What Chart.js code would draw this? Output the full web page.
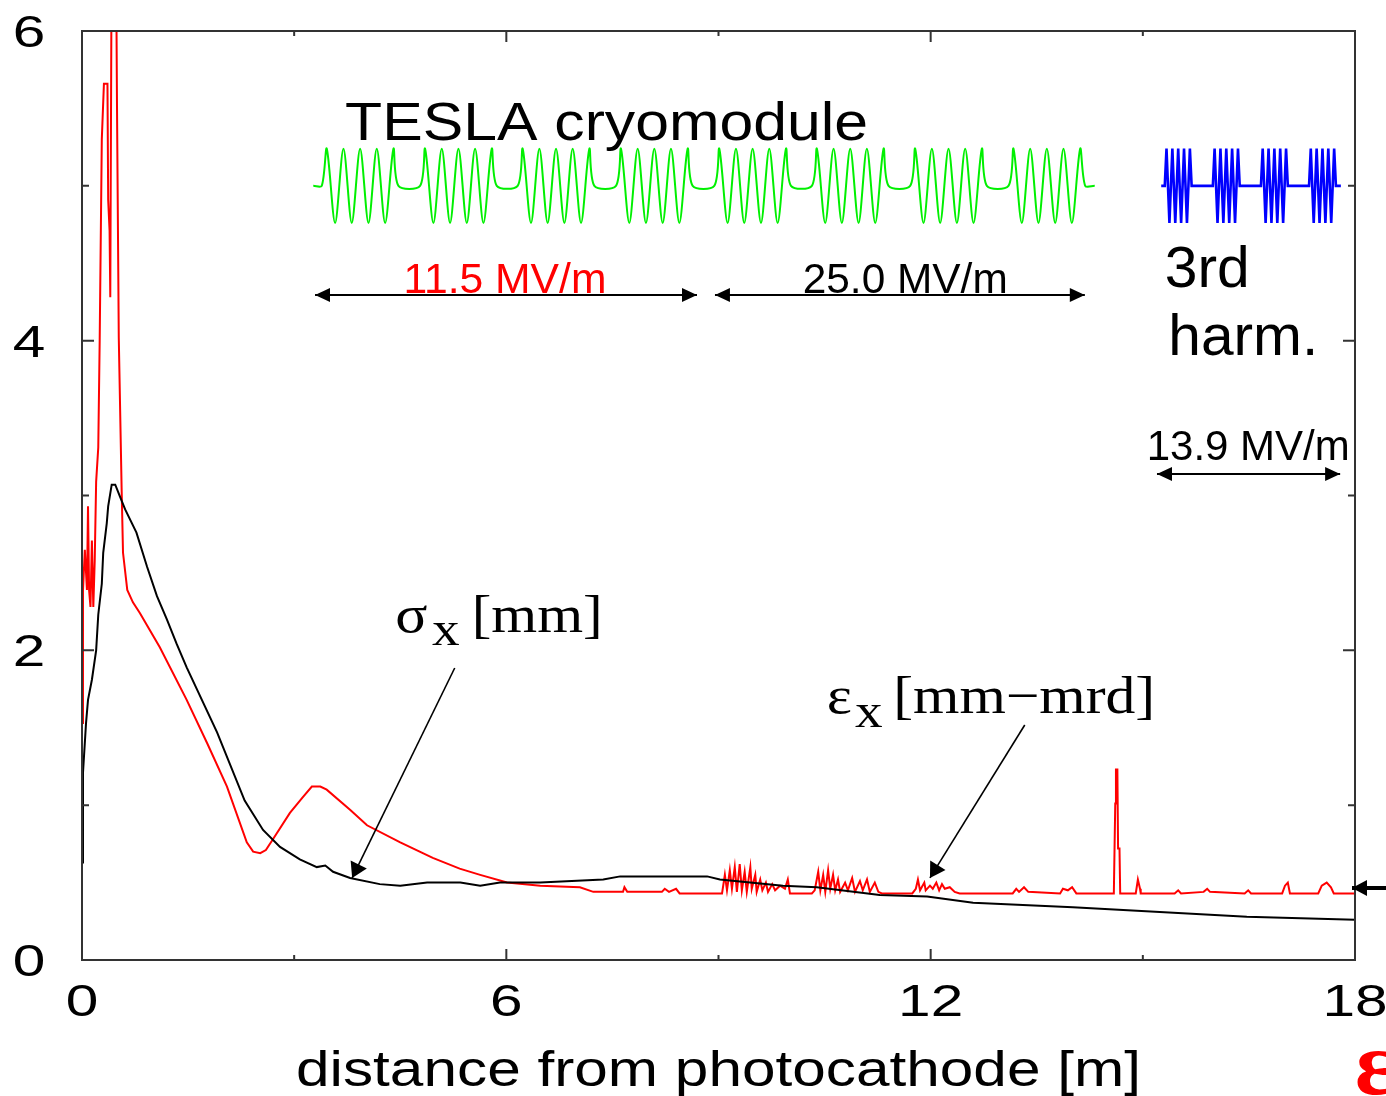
<!DOCTYPE html>
<html><head><meta charset="utf-8">
<script src="https://cdn.jsdelivr.net/npm/chart.js@4.4.1/dist/chart.umd.min.js"></script>
<style>html,body{margin:0;padding:0;background:#fff;}canvas{display:block;}</style>
</head><body>
<canvas id="c" width="1386" height="1096"></canvas>
<script>
// ---------------- data ----------------
// sigma_x [mm] (black) vs distance [m]
const sigmaZ  = [0,0.014,0.057,0.085,0.14,0.20,0.23,0.28,0.30,0.35,0.37,0.42,0.47,0.54,0.61,0.77,0.92,1.06,1.20,1.34,1.48,1.91,2.30,2.56,2.80,3.08,3.32,3.44,3.55,3.79,4.21,4.50,4.88,5.35,5.63,5.91,6.48,7.37,7.61,8.84,9.02,9.91,10.39,11.28,11.95,12.6,14.01,15.24,16.47,18.0];
const sigmaMM = [0.63,1.21,1.53,1.68,1.81,2.00,2.23,2.43,2.63,2.82,2.93,3.07,3.07,2.99,2.91,2.76,2.54,2.35,2.20,2.04,1.89,1.47,1.03,0.84,0.73,0.65,0.60,0.61,0.57,0.53,0.49,0.48,0.50,0.50,0.48,0.50,0.50,0.52,0.54,0.54,0.52,0.48,0.47,0.42,0.41,0.37,0.34,0.31,0.28,0.26];
// epsilon_x [mm-mrd] (red) vs distance [m]
const emitZ = [0.00,0.014,0.04,0.07,0.085,0.10,0.12,0.14,0.16,0.18,0.20,0.23,0.25,0.28,0.31,0.36,0.37,0.39,0.40,0.42,0.48,0.495,0.52,0.56,0.58,0.64,0.72,0.82,0.96,1.10,1.48,1.77,2.05,2.33,2.42,2.52,2.60,2.70,2.94,3.12,3.25,3.37,3.46,3.79,4.03,4.50,4.96,5.34,5.63,6.01,6.48,7.04,7.23,7.65,7.67,7.71,8.20,8.24,8.30,8.40,8.45,
 9.05,9.09,9.12,9.16,9.19,9.23,9.26,9.30,9.33,9.37,9.40,9.45,9.47,9.52,9.54,9.59,9.62,9.67,9.70,9.76,9.80,9.87,9.94,9.98,10.01,
 10.32,10.36,10.41,10.44,10.48,10.51,10.55,10.58,10.62,10.65,10.69,10.72,10.79,10.83,10.89,10.93,11.00,11.04,11.10,11.14,11.21,11.26,11.31,
 11.74,11.79,11.82,11.85,11.91,11.93,11.99,12.03,12.08,12.12,12.16,12.20,12.27,12.34,12.41,
 13.16,13.21,13.25,13.32,13.38,13.83,13.87,13.94,14.00,14.06,
 14.59,14.61,14.62,14.64,14.65,14.67,14.68,14.90,14.93,14.96,14.97,15.45,15.50,15.54,15.86,15.91,15.95,16.44,16.49,16.53,16.97,17.01,17.05,17.08,17.48,17.53,17.60,17.66,17.70,18.00];
const emitMM = [1.53,2.39,2.65,2.39,2.93,2.39,2.28,2.71,2.28,2.58,3.09,3.31,4.00,5.30,5.66,5.66,4.91,4.71,4.28,6.60,6.60,5.51,4.02,3.05,2.63,2.39,2.31,2.24,2.13,2.02,1.68,1.40,1.12,0.76,0.70,0.69,0.71,0.78,0.95,1.05,1.12,1.12,1.10,0.97,0.87,0.76,0.66,0.59,0.55,0.50,0.48,0.47,0.44,0.44,0.47,0.44,0.44,0.46,0.44,0.46,0.43,
 0.43,0.55,0.45,0.58,0.46,0.60,0.44,0.62,0.45,0.57,0.44,0.60,0.46,0.55,0.44,0.52,0.45,0.50,0.44,0.49,0.45,0.48,0.46,0.52,0.43,
 0.43,0.45,0.57,0.45,0.55,0.44,0.58,0.46,0.55,0.45,0.52,0.44,0.50,0.45,0.53,0.44,0.51,0.45,0.52,0.44,0.50,0.44,0.43,
 0.43,0.46,0.52,0.45,0.50,0.45,0.48,0.46,0.50,0.45,0.49,0.46,0.47,0.44,0.43,
 0.43,0.46,0.44,0.47,0.44,0.43,0.46,0.45,0.47,0.43,
 0.43,1.01,1.23,1.23,0.72,0.72,0.43,0.43,0.52,0.46,0.43,0.43,0.45,0.43,0.44,0.46,0.44,0.43,0.45,0.43,0.43,0.48,0.50,0.43,0.43,0.48,0.50,0.47,0.43,0.43];
// tick labels
const xTickLabels = ['0','6','12','18'];
const yTickLabels = ['0','2','4','6'];
// cavity schematic: cavity entrance positions [m] and 9-cell field pattern
const teslaCavityStarts = [3.39,4.78,6.16,7.55,8.94,10.32,11.71,13.10];
const harmCavityStarts  = [15.31,15.99,16.67,17.35];
const cellPhase = [0,0.065,0.174,0.283,0.391,0.5,0.609,0.717,0.826,0.935,1.0];
const cellSwing = [0,1,-1,1,-1,1,-1,1,-1,1,0];

// ---------------- build ----------------
const zip = (xs, ys) => xs.map((v, i) => ({x: v, y: ys[i]}));
function cavityTrace(from, to, starts, len, amp, base) {
  const pts = [{x: from, y: base}];
  starts.forEach(s => cellPhase.forEach((p, i) => pts.push({x: s + p * len, y: base + cellSwing[i] * amp})));
  pts.push({x: to, y: base});
  return pts;
}
const SANS = '"Liberation Sans", Arial, sans-serif';
const SERIF = '"Liberation Serif", "Times New Roman", serif';

function txt(ctx, t, x, y, size, opt) {
  opt = opt || {};
  ctx.save();
  ctx.font = (opt.bold ? 'bold ' : '') + size + 'px ' + (opt.family || SANS);
  const w = ctx.measureText(t).width;
  const sx = opt.w ? opt.w / w : (opt.sx || 1);
  ctx.translate(x, y);
  ctx.scale(sx, 1);
  ctx.textAlign = opt.align || 'left';
  ctx.textBaseline = 'alphabetic';
  ctx.fillStyle = opt.color || '#000';
  ctx.fillText(t, 0, 0);
  ctx.restore();
}
function head(ctx, x1, y1, x2, y2, L, H) {
  const a = Math.atan2(y2 - y1, x2 - x1);
  ctx.beginPath();
  ctx.moveTo(x2, y2);
  ctx.lineTo(x2 - L * Math.cos(a) + H * Math.sin(a), y2 - L * Math.sin(a) - H * Math.cos(a));
  ctx.lineTo(x2 - L * Math.cos(a) - H * Math.sin(a), y2 - L * Math.sin(a) + H * Math.cos(a));
  ctx.closePath();
  ctx.fill();
}
function arrow(ctx, x1, y1, x2, y2, lw, L, H, both) {
  ctx.save();
  ctx.strokeStyle = '#000'; ctx.fillStyle = '#000'; ctx.lineWidth = lw;
  ctx.beginPath(); ctx.moveTo(x1, y1); ctx.lineTo(x2, y2); ctx.stroke();
  head(ctx, x1, y1, x2, y2, L, H);
  if (both) head(ctx, x2, y2, x1, y1, L, H);
  ctx.restore();
}

const overlay = {
  id: 'overlay',
  afterDraw(chart) {
    const {ctx, chartArea: a, scales: {x, y}} = chart;
    const X = v => x.getPixelForValue(v), Y = v => y.getPixelForValue(v);
    ctx.save();
    // frame
    ctx.strokeStyle = '#333'; ctx.lineWidth = 2;
    ctx.strokeRect(a.left, a.top, a.right - a.left, a.bottom - a.top);
    // inward ticks + labels
    ctx.beginPath();
    x.ticks.forEach(t => {
      const p = X(t.value), major = xTickLabels.includes(String(t.value)), len = major ? 11 : 5;
      if (t.value > x.min && t.value < x.max) {
        ctx.moveTo(p, a.bottom); ctx.lineTo(p, a.bottom - len);
        ctx.moveTo(p, a.top); ctx.lineTo(p, a.top + len);
      }
    });
    y.ticks.forEach(t => {
      const p = Y(t.value), major = yTickLabels.includes(String(t.value)), len = major ? 12 : 7;
      if (t.value > y.min && t.value < y.max) {
        ctx.moveTo(a.left, p); ctx.lineTo(a.left + len, p);
        ctx.moveTo(a.right, p); ctx.lineTo(a.right - len, p);
      }
    });
    ctx.stroke();
    x.ticks.forEach(t => {
      const s = String(t.value);
      if (xTickLabels.includes(s)) txt(ctx, s, X(t.value), a.bottom + 56, 44, {align: 'center', sx: 1.33});
    });
    y.ticks.forEach(t => {
      const s = String(t.value);
      if (yTickLabels.includes(s)) txt(ctx, s, 29, Y(t.value) + 16, 44, {align: 'center', sx: 1.33});
    });
    // axis title
    txt(ctx, 'distance from photocathode [m]', (a.left + a.right) / 2, 1086, 50, {align: 'center', w: 845});
    // annotations
    txt(ctx, 'TESLA cryomodule', X(3.72), Y(5.296), 53, {w: 523});
    txt(ctx, '11.5 MV/m', X(5.98), Y(4.308), 42, {align: 'center', w: 203, color: '#ff0000'});
    txt(ctx, '25.0 MV/m', X(11.64), Y(4.308), 42, {align: 'center', w: 205});
    txt(ctx, '3rd', X(15.31), Y(4.347), 58, {w: 85});
    txt(ctx, 'harm.', X(15.36), Y(3.907), 58, {w: 150});
    txt(ctx, '13.9 MV/m', X(16.49), Y(3.229), 42, {align: 'center', w: 203});
    arrow(ctx, X(3.295), Y(4.295), X(8.696), Y(4.295), 2, 15, 7, true);
    arrow(ctx, X(8.95), Y(4.295), X(14.18), Y(4.295), 2, 15, 7, true);
    arrow(ctx, X(15.20), Y(3.139), X(17.79), Y(3.139), 2, 15, 7, true);
    txt(ctx, 'σ', X(4.43), Y(2.118), 52, {family: SERIF, sx: 1.15});
    txt(ctx, 'x', X(4.95), Y(2.034), 48, {family: SERIF, sx: 1.15});
    txt(ctx, '[mm]', X(5.51), Y(2.118), 52, {family: SERIF, w: 131});
    txt(ctx, 'ε', X(10.53), Y(1.595), 52, {family: SERIF, sx: 1.15});
    txt(ctx, 'x', X(10.93), Y(1.505), 48, {family: SERIF, sx: 1.15});
    txt(ctx, '[mm\u2212mrd]', X(11.47), Y(1.595), 52, {family: SERIF, w: 262});
    arrow(ctx, X(5.27), Y(1.886), X(3.82), Y(0.53), 1.6, 15, 9, false);
    arrow(ctx, X(13.33), Y(1.518), X(11.99), Y(0.53), 1.6, 15, 9, false);
    // final-emittance pointer at right edge
    arrow(ctx, chart.width + 2, Y(0.465), a.right - 3, Y(0.465), 4, 15, 8, false);
    // red logo glyph
    txt(ctx, 'ε', 1355, 1094, 92, {family: SERIF, bold: true, color: '#ff0000'});
    ctx.restore();
  }
};

new Chart(document.getElementById('c'), {
  type: 'scatter',
  data: {
    datasets: [
      {label: 'sigma_x', data: zip(sigmaZ, sigmaMM), showLine: true, borderColor: '#000', borderWidth: 2, pointRadius: 0, tension: 0, clip: 0},
      {label: 'eps_x', data: zip(emitZ, emitMM), showLine: true, borderColor: '#ff0000', borderWidth: 2, pointRadius: 0, tension: 0, clip: 0},
      {label: 'TESLA', data: cavityTrace(3.27, 14.32, teslaCavityStarts, 1.085, 0.24, 5), showLine: true, borderColor: '#00f000', borderWidth: 2, pointRadius: 0, tension: 0.3, clip: 0},
      {label: '3rd harm', data: cavityTrace(15.26, 17.80, harmCavityStarts, 0.38, 0.24, 5), showLine: true, borderColor: '#0000ff', borderWidth: 2.6, pointRadius: 0, tension: 0, clip: 0}
    ]
  },
  options: {
    responsive: false,
    animation: false,
    devicePixelRatio: 1,
    layout: {padding: {top: 31, right: 31, left: 0, bottom: 0}},
    plugins: {legend: {display: false}, tooltip: {enabled: false}},
    scales: {
      x: {type: 'linear', min: 0, max: 18, ticks: {stepSize: 3, display: false}, grid: {display: false}, border: {display: false},
          afterFit: s => { s.height = 136; }},
      y: {type: 'linear', min: 0, max: 6, ticks: {stepSize: 1, display: false}, grid: {display: false}, border: {display: false},
          afterFit: s => { s.width = 82; }}
    }
  },
  plugins: [overlay]
});
</script>
</body></html>
